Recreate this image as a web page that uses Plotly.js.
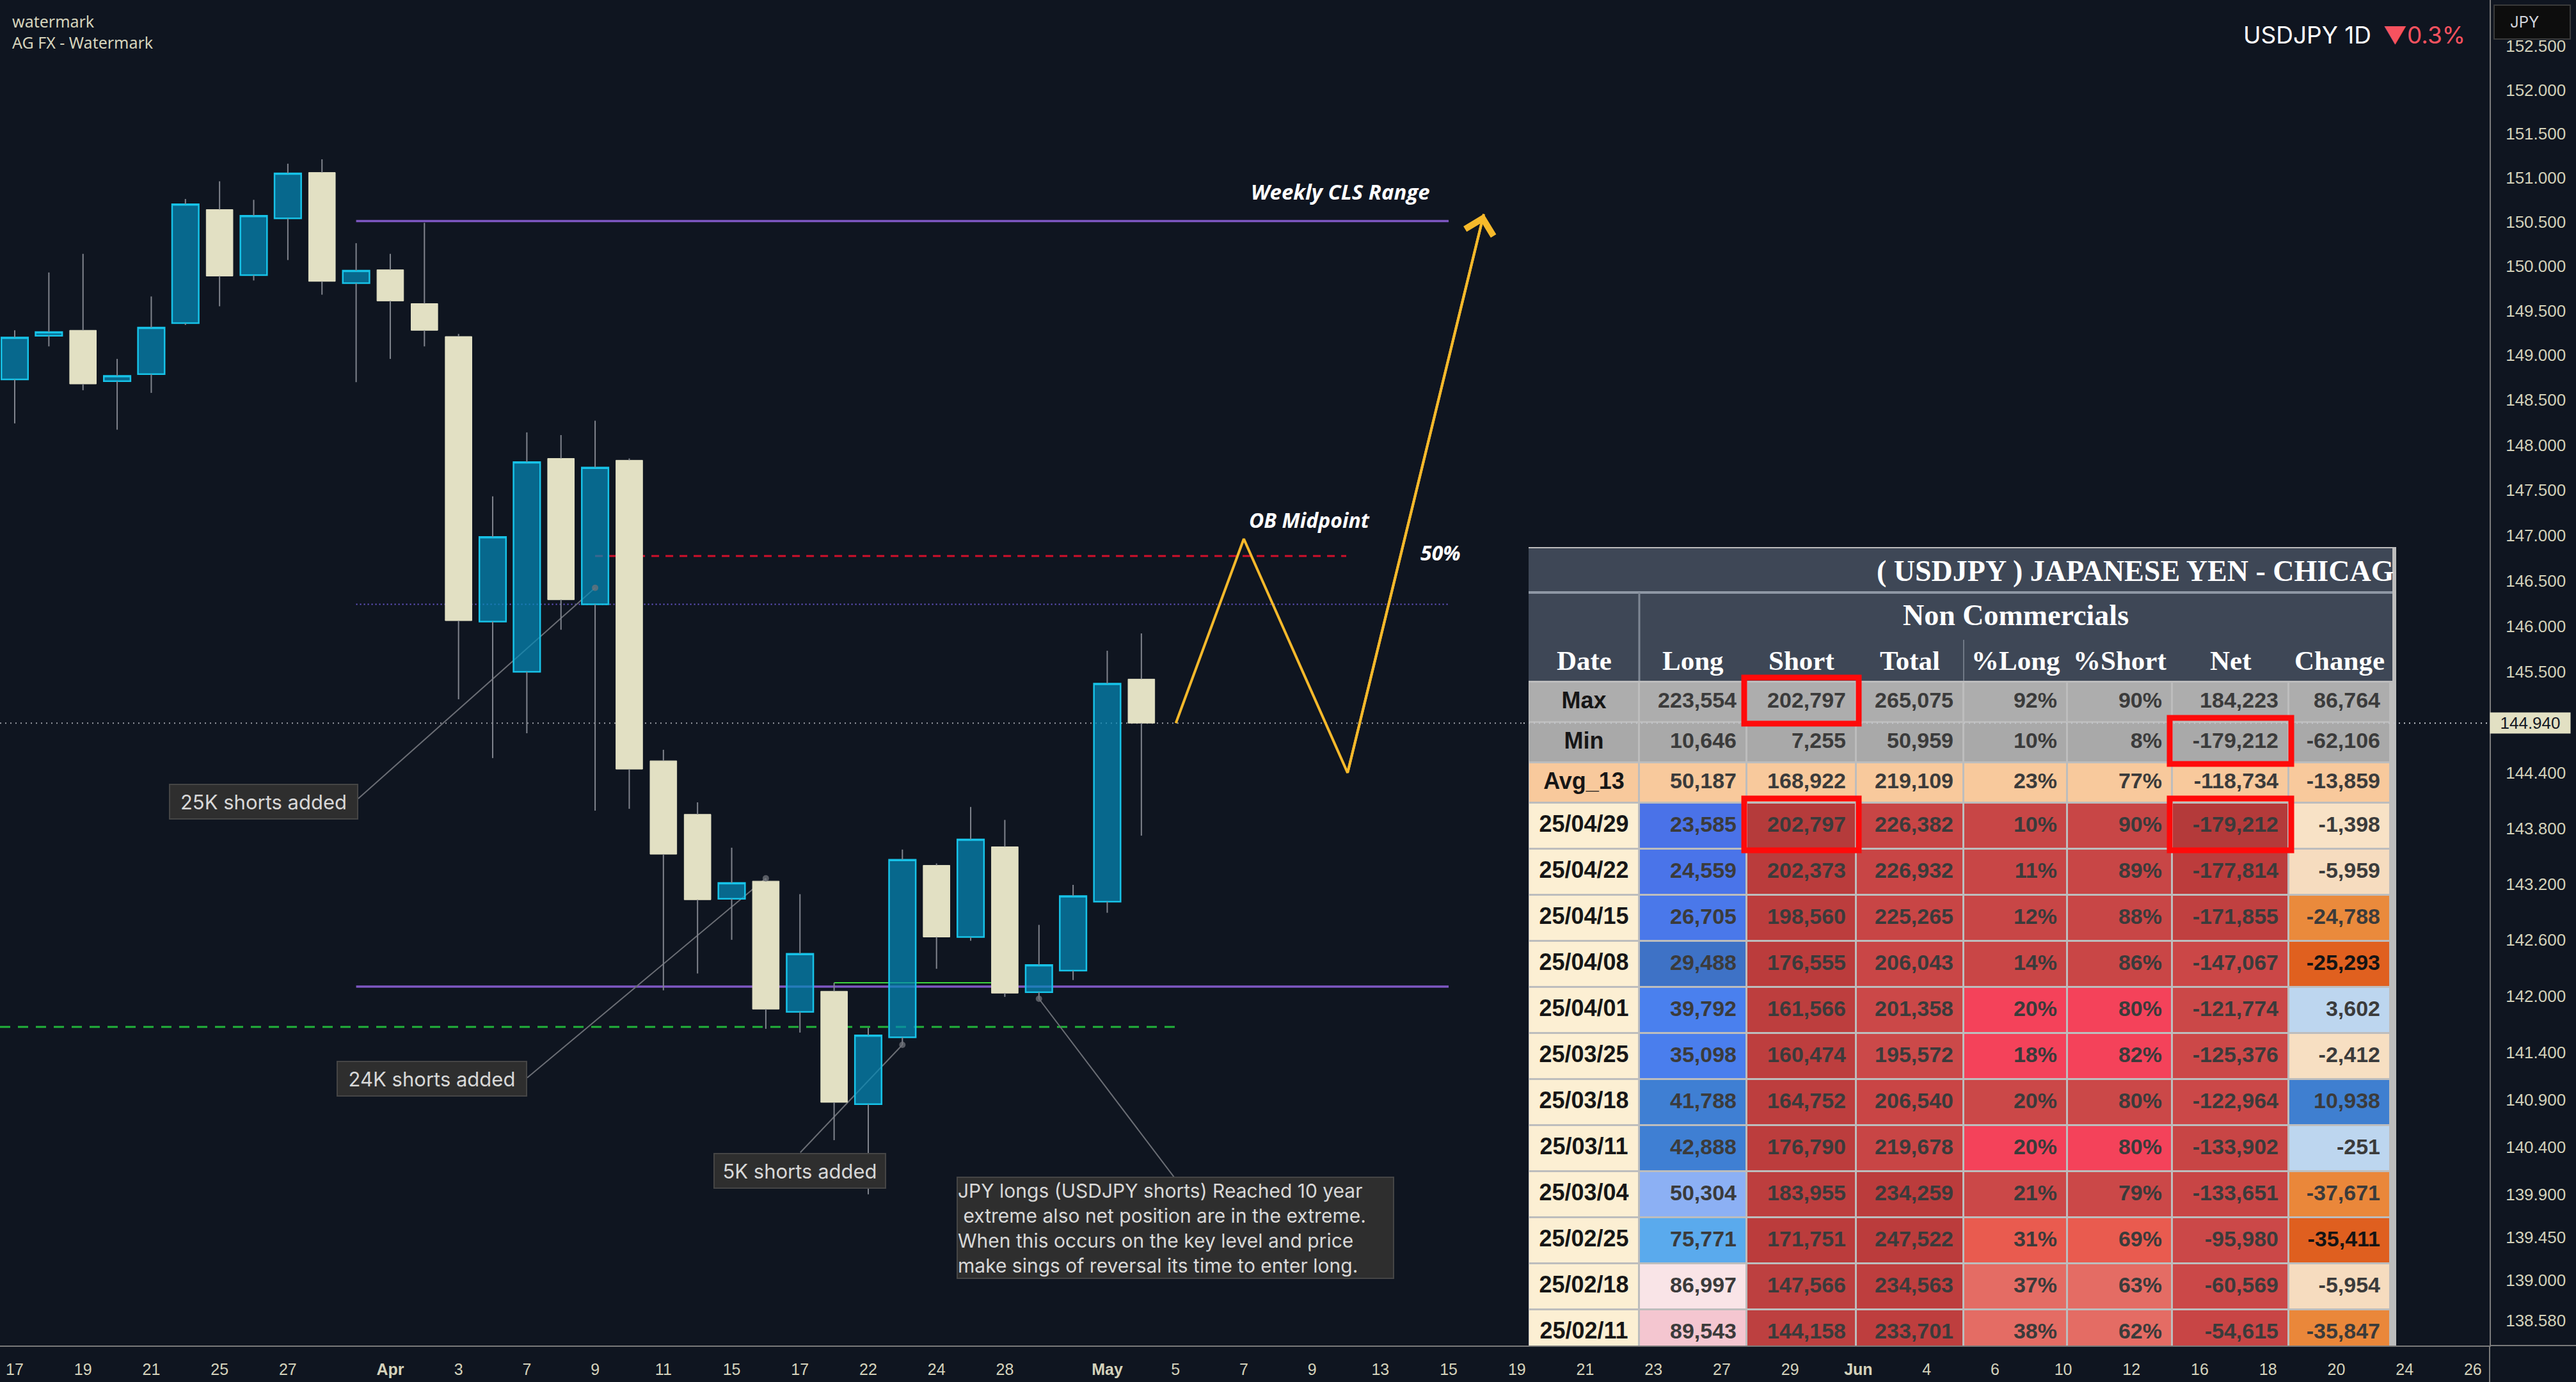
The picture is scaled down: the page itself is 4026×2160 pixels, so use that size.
<!DOCTYPE html>
<html><head><meta charset="utf-8">
<script src="https://cdn.plot.ly/plotly-3.0.1.min.js"></script>
<style>html,body{margin:0;padding:0;background:#0f1520;}#chart{width:4026px;height:2160px;}</style>
</head><body><div id="chart"></div>
<script>
// ---------------- DATA: USDJPY daily candles ----------------
const candleDates = ['2025-03-17','2025-03-18','2025-03-19','2025-03-20','2025-03-21','2025-03-24','2025-03-25','2025-03-26','2025-03-27','2025-03-28','2025-03-31','2025-04-01','2025-04-02','2025-04-03','2025-04-04','2025-04-07','2025-04-08','2025-04-09','2025-04-10','2025-04-11','2025-04-14','2025-04-15','2025-04-16','2025-04-17','2025-04-21','2025-04-22','2025-04-23','2025-04-24','2025-04-25','2025-04-28','2025-04-29','2025-04-30','2025-05-01','2025-05-02'];
const openP  = [148.73,149.22,149.28,148.71,148.79,149.36,150.64,149.90,150.54,151.06,149.81,149.96,149.58,149.21,146.05,145.50,147.85,146.24,147.83,144.53,143.95,143.04,143.23,141.83,142.05,140.85,141.56,143.40,142.63,143.60,142.04,142.27,143.01,145.42];
const highP  = [149.28,149.93,150.14,148.96,149.66,150.76,150.96,150.75,151.16,151.21,150.26,150.14,150.49,149.24,147.43,148.14,148.11,148.27,147.85,144.65,144.08,143.59,143.26,143.09,142.14,141.66,143.57,143.42,144.03,143.89,142.76,143.19,145.73,145.92];
const lowP   = [148.24,149.10,148.61,148.17,148.58,149.34,149.55,149.84,150.07,149.68,148.70,148.96,149.10,145.20,144.56,144.83,145.96,143.99,144.01,142.06,142.24,142.60,141.65,141.61,140.47,139.90,141.48,142.29,142.59,141.99,141.97,142.17,142.89,143.72];
const closeP = [149.20,149.26,148.68,148.77,149.31,150.70,149.89,150.57,151.05,149.83,149.95,149.61,149.28,146.06,146.98,147.81,146.29,147.75,144.44,143.52,143.03,143.21,141.86,142.45,140.87,141.58,143.46,142.63,143.68,142.03,142.33,143.07,145.37,144.94];

// axis ticks
const priceTicks = [152.5,152,151.5,151,150.5,150,149.5,149,148.5,148,147.5,147,146.5,146,145.5,144.4,143.8,143.2,142.6,142,141.4,140.9,140.4,139.9,139.45,139,138.58];
const tickDays = ['2025-03-17','2025-03-19','2025-03-21','2025-03-25','2025-03-27','2025-04-01','2025-04-03','2025-04-07','2025-04-09','2025-04-11','2025-04-15','2025-04-17','2025-04-22','2025-04-24','2025-04-28','2025-05-01','2025-05-05','2025-05-07','2025-05-09','2025-05-13','2025-05-15','2025-05-19','2025-05-21','2025-05-23','2025-05-27','2025-05-29','2025-06-02','2025-06-04','2025-06-06','2025-06-10','2025-06-12','2025-06-16','2025-06-18','2025-06-20','2025-06-24','2025-06-26'];
const tickLabels = ['17','19','21','25','27','<b>Apr</b>','3','7','9','11','15','17','22','24','28','<b>May</b>','5','7','9','13','15','19','21','23','27','29','<b>Jun</b>','4','6','10','12','16','18','20','24','26'];

// drawn levels
const weeklyHigh = 150.51, weeklyLow = 142.10, obMidLevel = 146.77, midDotted = 146.24, greenDashLevel = 141.67;
const lastPrice = closeP[closeP.length-1];
const zigIdx = [34.01, 36.0, 39.04, 43.03];
const zigPrice = [144.94, 146.96, 144.40, 150.59];

// ---------------- DATA: COT table ----------------
const cotCols = ['Date','Long','Short','Total','%Long','%Short','Net','Change'];
const cotRows = ['Max','Min','Avg_13','25/04/29','25/04/22','25/04/15','25/04/08','25/04/01','25/03/25','25/03/18','25/03/11','25/03/04','25/02/25','25/02/18','25/02/11'];
const cotLong  = [223554,10646,50187,23585,24559,26705,29488,39792,35098,41788,42888,50304,75771,86997,89543];
const cotShort = [202797,7255,168922,202797,202373,198560,176555,161566,160474,164752,176790,183955,171751,147566,144158];
const cotTotal = [265075,50959,219109,226382,226932,225265,206043,201358,195572,206540,219678,234259,247522,234563,233701];
const cotPctLong  = [92,10,23,10,11,12,14,20,18,20,20,21,31,37,38];
const cotPctShort = [90,8,77,90,89,88,86,80,82,80,80,79,69,63,62];
const cotNet    = [184223,-179212,-118734,-179212,-177814,-171855,-147067,-121774,-125376,-122964,-133902,-133651,-95980,-60569,-54615];
const cotChange = [86764,-62106,-13859,-1398,-5959,-24788,-25293,3602,-2412,10938,-251,-37671,-35411,-5954,-35847];
const cotHighlight = [['Max','Short'],['Min','Net'],['25/04/29','Short'],['25/04/29','Net']];

// ---------------- STYLES ----------------
const g1='#adadad', g2='#a9a9a9', pe='#f8c99c', cr='#fcefd3';
const fillDate = [g1,g2,pe,cr,cr,cr,cr,cr,cr,cr,cr,cr,cr,cr,cr];
const fillLong = [g1,g2,pe,'#4a72e8','#4a74e9','#4a78ea','#3e72c6','#4a80ee','#4a7eed','#3f7fd3','#3f7fd3','#8cb0f4','#5aaaed','#f9e4e7','#f4c6d0'];
const fillShort = [g1,g2,pe,'#b53b3b','#ba3c3c','#bc3d3d','#bb3c3c','#bd3e3e','#bd3e3e','#bd3e3e','#bc3d3d','#bd3e3e','#bb3c3c','#bd4040','#bd4040'];
const fillTotal = [g1,g2,pe,'#c84545','#c84545','#c84545','#c94646','#cb4848','#cb4949','#c94545','#c84545','#bb3c3c','#bb3c3c','#be3e3e','#be3e3e'];
const fillPctL = [g1,g2,pe,'#c84646','#c84646','#c84646','#c94646','#f4425a','#f4425a','#cb4848','#f4425a','#cb4848','#e95b4f','#e46c64','#e46c64'];
const fillPctS = fillPctL.slice();
const fillNet = [g1,g2,pe,'#b43a3a','#bc3c3c','#c04040','#cb4747','#cb4848','#cc4848','#cb4848','#c84545','#c84545','#cb4848','#cb4848','#c84545'];
const fillChange = [g1,g2,pe,'#f8e2c6','#f6dcbf','#ea8a3c','#e0601f','#bdd6ef','#f7dfc2','#3f7fd0','#bdd6ef','#ea873a','#df5f1f','#f6dcbf','#ea873a'];
const colFills = [fillDate,fillLong,fillShort,fillTotal,fillPctL,fillPctS,fillNet,fillChange];
// table geometry (in table-axis units = px)
const colEdges = [0,173,341,512,680,842,1006,1188,1347];
const rowEdges = [211,274,337,400,472,544,616,688,760,832,904,976,1048,1120,1192,1264];

const BG = '#0f1520';
const PW = 3891, PH = 2103;
const L10 = Math.log10;

// trading calendar (weekends and Good Friday removed)
const tradingDays = [];
for (let t = Date.UTC(2025,2,17); t <= Date.UTC(2025,5,27); t += 86400000) {
  const d = new Date(t), wd = d.getUTCDay(), s = d.toISOString().slice(0,10);
  if (wd !== 0 && wd !== 6 && s !== '2025-04-18') tradingDays.push(s);
}
function tdate(i) {
  const n = Math.round(i);
  const t = Date.parse(tradingDays[n] + 'T12:00:00Z') + (i - n) * 86400000;
  return new Date(t).toISOString().slice(0,19).replace('T',' ');
}
const cx = candleDates.map(s => s + ' 12:00');

// callout leader geometry: [trading index, price] of box edge -> anchor on candle
const callouts = [
  {from:[10.06,144.12], to:[17, 146.42]},
  {from:[15.01,141.13], to:[22, highP[22]]},
  {from:[23.01,140.34], to:[26, lowP[26]]},
  {from:[33.98,140.07], to:[30, lowP[30]]}
];

// ---------------- TRACES ----------------
const traces = [];
const bodyHi = openP.map((o,k)=>Math.max(o,closeP[k]));
const bodyLo = openP.map((o,k)=>Math.min(o,closeP[k]));
traces.push({
  type:'candlestick', x:cx, open:openP, close:closeP, high:bodyHi, low:bodyLo,
  increasing:{line:{color:'#17c3e8', width:2.5}, fillcolor:'rgba(4,137,183,0.72)'},
  decreasing:{line:{color:'#e2e0c3', width:1}, fillcolor:'#e2e0c3'},
  whiskerwidth:0, hoverinfo:'skip', showlegend:false
});
const wx=[], wy=[];
cx.forEach((x,k)=>{ wx.push(x,x,null,x,x,null); wy.push(highP[k],bodyHi[k],null,bodyLo[k],lowP[k],null); });
traces.push({type:'scatter', mode:'lines', x:wx, y:wy, line:{color:'#80848d', width:2}, hoverinfo:'skip', showlegend:false, connectgaps:false});
// callout anchor dots
traces.push({type:'scatter', mode:'markers', x:callouts.map(c=>tdate(c.to[0])), y:callouts.map(c=>c.to[1]),
  marker:{size:10, color:'#707379', opacity:0.75, line:{width:0}}, hoverinfo:'skip', showlegend:false});
traces.push({type:'scatter', mode:'lines', x:zigIdx.map(tdate), y:zigPrice, line:{color:'#f6b92b', width:4}, hoverinfo:'skip', showlegend:false});

// table heatmap
const nR = cotRows.length, nC = cotCols.length;
const z = [], flat = [];
for (let r=0;r<nR;r++){ const row=[]; for(let c=0;c<nC;c++){ row.push(r*nC+c+0.5); flat.push(colFills[c][r]); } z.push(row); }
const cs = [];
flat.forEach((col,k)=>{ cs.push([k/flat.length,col]); cs.push([(k+1)/flat.length,col]); });
traces.push({type:'heatmap', xaxis:'x2', yaxis:'y2', x:colEdges, y:rowEdges, z:z, zmin:0, zmax:flat.length,
  colorscale:cs, showscale:false, xgap:3, ygap:3, hoverinfo:'skip'});
const fmt = v => v.toLocaleString('en-US');
const colText = [cotRows, cotLong.map(fmt), cotShort.map(fmt), cotTotal.map(fmt), cotPctLong.map(v=>v+'%'), cotPctShort.map(v=>v+'%'), cotNet.map(fmt), cotChange.map(fmt)];
const rowMid = cotRows.map((_,r)=>(rowEdges[r]+rowEdges[r+1])/2);
for (let c=0;c<nC;c++){
  const xs = cotRows.map(()=> c===0 ? (colEdges[0]+colEdges[1])/2 : colEdges[c+1]-16);
  const colors = cotRows.map((_,r)=> c===0 ? '#161616' : (['#e0601f','#df5f1f'].includes(colFills[c][r]) ? '#141414' : '#3b3b3b'));
  traces.push({type:'scatter', mode:'text', xaxis:'x2', yaxis:'y2', x:xs, y:rowMid, text:colText[c],
    textposition: c===0 ? 'middle center' : 'middle left',
    textfont:{family:'Liberation Sans, Arial, sans-serif', size: c===0?36:34, weight:'bold', color:colors},
    hoverinfo:'skip', showlegend:false, cliponaxis:true});
}

// ---------------- SHAPES (shape y on log axis = price value) ----------------
const shapes = [];
function hline(i0,i1,p,color,width,dash){
  shapes.push({type:'line', xref:'x', yref:'y', x0:tdate(i0), x1:tdate(i1), y0:p, y1:p, line:{color:color,width:width,dash:dash||'solid'}, layer:'below'});
}
hline(10,42,weeklyHigh,'#7e57c2',3.5);
hline(10,42,weeklyLow,'#7e57c2',3.5);
hline(10,42,midDotted,'#6b58d0',2,'2px,4px');
hline(17,39,obMidLevel,'#d0102a',3,'12px,10px');
hline(-0.431,33.98,greenDashLevel,'#22b33a',3,'16px,12px');
hline(24,28.6,highP[24],'#3ed33e',2);
const tableLeftPaper = 2381/PW;
shapes.push({type:'line', xref:'paper', yref:'y', x0:0, x1:tableLeftPaper, y0:lastPrice, y1:lastPrice, line:{color:'#9a9ca4', width:2, dash:'2px,6px'}, layer:'below'});
shapes.push({type:'line', xref:'paper', yref:'y', x0:tableLeftPaper, x1:1, y0:lastPrice, y1:lastPrice, line:{color:'#c4c6cc', width:2, dash:'2px,6px'}, layer:'above'});
callouts.forEach(c=>{
  shapes.push({type:'line', xref:'x', yref:'y', x0:tdate(c.from[0]), y0:c.from[1], x1:tdate(c.to[0]), y1:c.to[1], line:{color:'#6b6e75', width:2}, layer:'below'});
});
shapes.push({type:'line', xref:'paper', yref:'paper', x0:1, x1:1.04, y0:0, y1:0, line:{color:'#7a7a7a', width:2}});
shapes.push({type:'line', xref:'paper', yref:'paper', x0:1, x1:1, y0:0, y1:-0.03, line:{color:'#7a7a7a', width:2}});
// table frame & header
shapes.push({type:'rect', xref:'x2', yref:'y2', x0:-8, x1:1358, y0:-3, y1:1248, fillcolor:'#bdbdbd', line:{width:0}, layer:'below'});
shapes.push({type:'rect', xref:'x2', yref:'y2', x0:0, x1:1350, y0:2, y1:209, fillcolor:'#3e4756', line:{width:0}, layer:'below'});
shapes.push({type:'line', xref:'x2', yref:'y2', x0:0, x1:1350, y0:71, y1:71, line:{color:'#8f98a5', width:4}, layer:'below'});
shapes.push({type:'line', xref:'x2', yref:'y2', x0:173, x1:173, y0:71, y1:209, line:{color:'#7f8895', width:3}, layer:'below'});
shapes.push({type:'line', xref:'x2', yref:'y2', x0:680, x1:680, y0:145, y1:209, line:{color:'#6f7885', width:2}, layer:'below'});
cotHighlight.forEach(([rn,cn])=>{
  const r = cotRows.indexOf(rn), c = cotCols.indexOf(cn);
  shapes.push({type:'rect', xref:'x2', yref:'y2', x0:colEdges[c]-4, x1:colEdges[c+1]+4, y0:rowEdges[r]-7, y1:rowEdges[r+1]+2, line:{color:'#ff0a0a', width:9}, fillcolor:'rgba(0,0,0,0)', layer:'above'});
});

// ---------------- ANNOTATIONS (annotation y on log axis = log10 value) ----------------
const ann = [];
const boxFont = {family:'Inter, Noto Sans, sans-serif', size:31, color:'#d8d8d8'};
function calloutBox(i,p,text,w,h,opts){
  ann.push(Object.assign({xref:'x', yref:'y', x:tdate(i), y:L10(p), text:text, showarrow:false, xanchor:'center', yanchor:'middle',
    bgcolor:'#2e2e2e', bordercolor:'#454545', borderwidth:2, borderpad:0, width:w, height:h, font:boxFont}, opts||{}));
}
calloutBox(7.29,144.09,'25K shorts added',292,52);
calloutBox(12.22,141.12,'24K shorts added',294,52);
calloutBox(22.99,140.15,'5K shorts added',266,52);
calloutBox(34.0,139.55,'JPY longs (USDJPY shorts) Reached 10 year<br>\u00a0extreme also net position are in the extreme.<br>When this occurs on the key level and price<br>make sings of reversal its time to enter long.',680,156,
  {align:'left', borderpad:0, font:{family:'Inter, Noto Sans, sans-serif', size:30, color:'#d8d8d8'}});
const boldIt = {family:'Open Sans, sans-serif', size:32, color:'#ffffff', weight:700, style:'italic'};
ann.push({xref:'x', yref:'y', x:tdate(41.49), y:L10(150.84), text:'Weekly CLS Range', showarrow:false, xanchor:'right', yanchor:'middle', font:Object.assign({},boldIt,{size:33})});
ann.push({xref:'x', yref:'y', x:tdate(36.11), y:L10(147.17), text:'OB Midpoint', showarrow:false, xanchor:'left', yanchor:'middle', font:boldIt});
ann.push({xref:'x', yref:'y', x:tdate(41.14), y:L10(146.81), text:'50%', showarrow:false, xanchor:'left', yanchor:'middle', font:boldIt});
ann.push({xref:'x', yref:'y', axref:'x', ayref:'y', x:tdate(zigIdx[3]), y:L10(zigPrice[3]), ax:tdate(zigIdx[2]), ay:L10(zigPrice[2]),
  text:'', showarrow:true, arrowhead:4, arrowsize:2.2, arrowwidth:4, arrowcolor:'#f6b92b'});
ann.push({xref:'paper', yref:'paper', x:17/PW, y:(PH-33)/PH, text:'watermark', showarrow:false, xanchor:'left', yanchor:'middle', font:{family:'Noto Sans, sans-serif', size:25, color:'#d6d4bc'}});
ann.push({xref:'paper', yref:'paper', x:17/PW, y:(PH-66)/PH, text:'AG FX - Watermark', showarrow:false, xanchor:'left', yanchor:'middle', font:{family:'Noto Sans, sans-serif', size:25, color:'#d6d4bc'}});
ann.push({xref:'paper', yref:'paper', x:3855/PW, y:(PH-55)/PH, text:'USDJPY 1D\u2002<span style="color:#f7525f">▼0.3%</span>', showarrow:false, xanchor:'right', yanchor:'middle', font:{family:'Inter, Roboto, sans-serif', size:37, color:'#ffffff'}});
ann.push({xref:'paper', yref:'paper', x:3897/PW, y:(PH-7)/PH, text:'\u2003JPY', showarrow:false, xanchor:'left', yanchor:'top', align:'left', width:117, height:51, borderpad:0,
  bgcolor:'#0d0d0d', bordercolor:'#3a3a3a', borderwidth:2, font:{family:'Inter, sans-serif', size:24, color:'#d1d4dc'}});
ann.push({xref:'paper', yref:'y', x:1, y:L10(lastPrice), text:lastPrice.toFixed(3), showarrow:false, xanchor:'left', yanchor:'middle', width:125, height:32, borderpad:0,
  bgcolor:'#e2e0c3', font:{family:'Liberation Sans, Arial, sans-serif', size:26, color:'#131722'}});
const serifB = {family:'Liberation Serif, DejaVu Serif, serif', size:46, color:'#ffffff', weight:'bold'};
ann.push({xref:'x2', yref:'y2', x:1354, y:38, text:'( USDJPY ) JAPANESE YEN - CHICAG', showarrow:false, xanchor:'right', yanchor:'middle', font:serifB});
ann.push({xref:'x2', yref:'y2', x:761, y:107, text:'Non Commercials', showarrow:false, xanchor:'center', yanchor:'middle', font:serifB});
cotCols.forEach((name,c)=>{
  ann.push({xref:'x2', yref:'y2', x:(colEdges[c]+colEdges[c+1])/2, y:177, text:name, showarrow:false, xanchor:'center', yanchor:'middle',
    font:{family:'Liberation Serif, DejaVu Serif, serif', size:43, color:'#ffffff', weight:'bold'}});
});

// ---------------- LAYOUT ----------------
const layout = {
  width:4026, height:2160, margin:{l:0, r:135, t:0, b:57},
  paper_bgcolor:BG, plot_bgcolor:'rgba(0,0,0,0)', showlegend:false, hovermode:false,
  boxgap:0.22, boxgroupgap:0,
  xaxis:{type:'date', range:[tdate(-0.431), tdate(72.49)],
    rangebreaks:[{bounds:['sat','mon']},{values:['2025-04-18']}],
    tickvals:tickDays.map(s=>s+' 12:00'), ticktext:tickLabels, tickmode:'array',
    showgrid:false, zeroline:false, showline:true, linecolor:'#7a7a7a', linewidth:2,
    ticks:'', ticklabelstandoff:14, tickfont:{family:'Liberation Sans, Arial, sans-serif', size:25, color:'#d4d2bb'},
    rangeslider:{visible:false}, fixedrange:true},
  yaxis:{type:'log', side:'right', range:[L10(138.32), L10(153.03)],
    tickvals:priceTicks, ticktext:priceTicks.map(v=>v.toFixed(3)), tickmode:'array',
    showgrid:false, zeroline:false, showline:true, linecolor:'#7a7a7a', linewidth:2,
    ticks:'', ticklabelstandoff:18, tickfont:{family:'Liberation Sans, Arial, sans-serif', size:26, color:'#d4d2bb'}, fixedrange:true},
  xaxis2:{domain:[2389/PW, 3745/PW], range:[0,1356], anchor:'y2', visible:false, fixedrange:true},
  yaxis2:{domain:[0, (PH-855)/PH], range:[1248,0], anchor:'x2', visible:false, fixedrange:true},
  shapes:shapes, annotations:ann
};
Plotly.newPlot('chart', traces, layout, {displayModeBar:false, staticPlot:true});
</script></body></html>
